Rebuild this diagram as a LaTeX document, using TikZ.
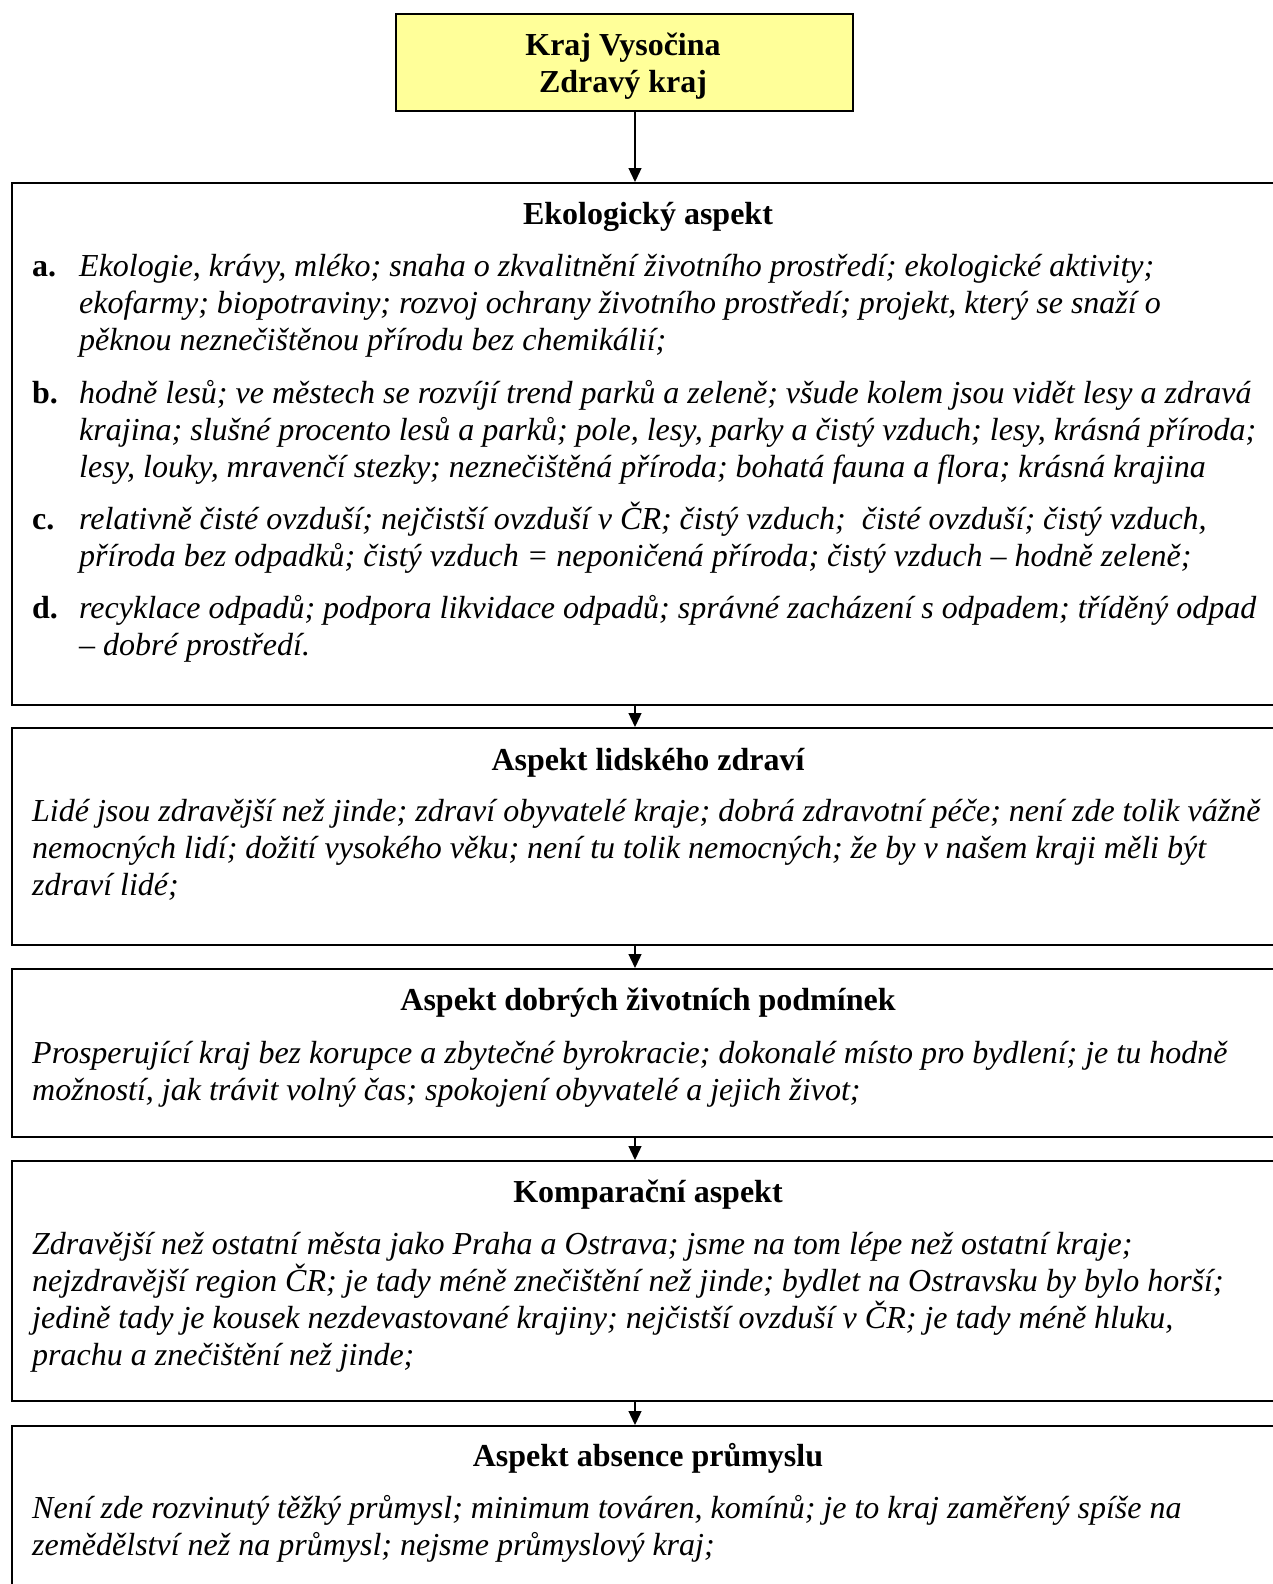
\documentclass[tikz,border=0pt]{standalone}
\usepackage{fontspec}
\setmainfont{Liberation Serif}
\usetikzlibrary{arrows.meta}
\definecolor{boxyellow}{RGB}{255,255,153}
\tikzset{
  frame/.style={draw=black, line width=1.6pt, anchor=north west, inner sep=0pt},
  conn/.style={draw=black, line width=1.3pt, -{Triangle[length=14pt,width=13pt]}},
  ttl/.style={anchor=base, inner sep=0pt, font=\fontsize{32}{37}\selectfont\bfseries},
  lbl/.style={anchor=base west, inner sep=0pt, font=\fontsize{32}{37}\selectfont\bfseries},
  body/.style={anchor=base west, inner sep=0pt, font=\fontsize{32}{37}\selectfont\itshape}
}
\newcommand{\lines}[1]{\parbox[t]{1240pt}{\raggedright #1}}
\begin{document}
\begin{tikzpicture}[x=1pt,y=-1pt]
\useasboundingbox (0,0) rectangle (1272,1584);
\fill[white] (0,0) rectangle (1272,1584);
% boxes
\node[frame, fill=boxyellow, minimum width=457pt, minimum height=97pt] (top) at (395,13) {};
\node[frame, minimum width=1274pt, minimum height=522pt] (eko) at (11,182) {};
\node[frame, minimum width=1274pt, minimum height=217pt] (zdr) at (11,727) {};
\node[frame, minimum width=1274pt, minimum height=168pt] (pod) at (11,968) {};
\node[frame, minimum width=1274pt, minimum height=240pt] (kom) at (11,1160) {};
\node[frame, minimum width=1274pt, minimum height=200pt] (abs) at (11,1425) {};
% connectors
\coordinate (ax) at (635,0);
\draw[conn] (top.south -| ax) -- (eko.north -| ax);
\draw[conn] (eko.south -| ax) -- (zdr.north -| ax);
\draw[conn] (zdr.south -| ax) -- (pod.north -| ax);
\draw[conn] (pod.south -| ax) -- (kom.north -| ax);
\draw[conn] (kom.south -| ax) -- (abs.north -| ax);
% top text
\node[ttl] (t1) at (623,56) {Kraj Vysočina};
\node[ttl] (t2) at (623,93) {Zdravý kraj};
% box 1
\node[ttl] (eko-t) at (648,224) {Ekologický aspekt};
\node[lbl] (la) at (32,276) {a.};
\node[body] (ia) at (79,276) {\lines{Ekologie, krávy, mléko; snaha o zkvalitnění životního prostředí; ekologické aktivity;\\
ekofarmy; biopotraviny; rozvoj ochrany životního prostředí; projekt, který se snaží o\\
pěknou neznečištěnou přírodu bez chemikálií;}};
\node[lbl] (lb) at (32,403) {b.};
\node[body] (ib) at (79,403) {\lines{hodně lesů; ve městech se rozvíjí trend parků a zeleně; všude kolem jsou vidět lesy a zdravá\\
krajina; slušné procento lesů a parků; pole, lesy, parky a čistý vzduch; lesy, krásná příroda;\\
lesy, louky, mravenčí stezky; neznečištěná příroda; bohatá fauna a flora; krásná krajina}};
\node[lbl] (lc) at (32,529) {c.};
\node[body] (ic) at (79,529) {\lines{relativně čisté ovzduší; nejčistší ovzduší v ČR; čistý vzduch;\ \ čisté ovzduší; čistý vzduch,\\
příroda bez odpadků; čistý vzduch = neponičená příroda; čistý vzduch – hodně zeleně;}};
\node[lbl] (ld) at (32,618) {d.};
\node[body] (id) at (79,618) {\lines{recyklace odpadů; podpora likvidace odpadů; správné zacházení s odpadem; tříděný odpad\\
– dobré prostředí.}};
% box 2
\node[ttl] (zdr-t) at (648,770) {Aspekt lidského zdraví};
\node[body] (zdr-b) at (32,821) {\lines{Lidé jsou zdravější než jinde; zdraví obyvatelé kraje; dobrá zdravotní péče; není zde tolik vážně\\
nemocných lidí; dožití vysokého věku; není tu tolik nemocných; že by v našem kraji měli být\\
zdraví lidé;}};
% box 3
\node[ttl] (pod-t) at (648,1010) {Aspekt dobrých životních podmínek};
\node[body] (pod-b) at (32,1063) {\lines{Prosperující kraj bez korupce a zbytečné byrokracie; dokonalé místo pro bydlení; je tu hodně\\
možností, jak trávit volný čas; spokojení obyvatelé a jejich život;}};
% box 4
\node[ttl] (kom-t) at (648,1202) {Komparační aspekt};
\node[body] (kom-b) at (32,1254) {\lines{Zdravější než ostatní města jako Praha a Ostrava; jsme na tom lépe než ostatní kraje;\\
nejzdravější region ČR; je tady méně znečištění než jinde; bydlet na Ostravsku by bylo horší;\\
jedině tady je kousek nezdevastované krajiny; nejčistší ovzduší v ČR; je tady méně hluku,\\
prachu a znečištění než jinde;}};
% box 5
\node[ttl] (abs-t) at (648,1466) {Aspekt absence průmyslu};
\node[body] (abs-b) at (32,1518) {\lines{Není zde rozvinutý těžký průmysl; minimum továren, komínů; je to kraj zaměřený spíše na\\
zemědělství než na průmysl; nejsme průmyslový kraj;}};
\end{tikzpicture}
\end{document}
